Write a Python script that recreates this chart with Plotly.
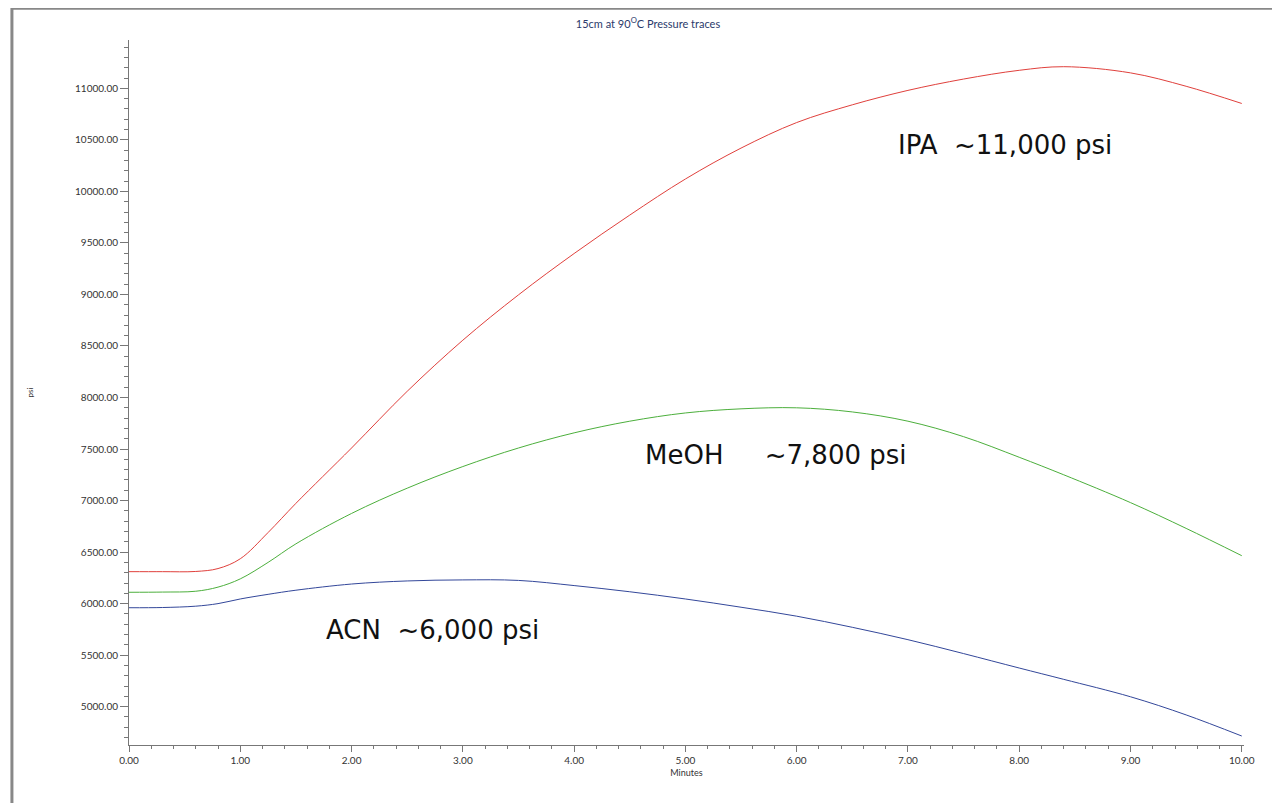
import plotly.graph_objects as go

# Time axis (minutes) and pressure traces (psi)
minutes = [0.0, 0.3, 0.6, 0.8, 1.0, 1.25, 1.5, 2.0, 2.5, 3.0, 3.5, 4.0, 4.5, 5.0, 5.5, 6.0, 6.5, 7.0, 7.5, 8.0, 8.4, 9.0, 9.5, 10.0]
ipa = [6310, 6310, 6312, 6340, 6435, 6690, 6973, 7510, 8060, 8556, 8996, 9397, 9770, 10120, 10420, 10668, 10840, 10980, 11090, 11175, 11210, 11150, 11020, 10853]
meoh = [6110, 6112, 6120, 6160, 6240, 6400, 6580, 6875, 7120, 7330, 7510, 7657, 7770, 7850, 7890, 7900, 7860, 7770, 7620, 7420, 7250, 6980, 6730, 6465]
acn = [5960, 5962, 5975, 6000, 6045, 6090, 6130, 6190, 6220, 6230, 6225, 6175, 6115, 6045, 5965, 5878, 5770, 5650, 5515, 5375, 5265, 5096, 4920, 4715]

x_ticks = [0, 1, 2, 3, 4, 5, 6, 7, 8, 9, 10]
y_ticks = [5000, 5500, 6000, 6500, 7000, 7500, 8000, 8500, 9000, 9500, 10000, 10500, 11000]

fig = go.Figure()
for name, vals, color in [("IPA", ipa, "#e0403c"), ("MeOH", meoh, "#4caf3c"), ("ACN", acn, "#33479a")]:
    fig.add_trace(go.Scatter(x=minutes, y=vals, mode="lines", name=name,
                             line=dict(color=color, width=1, shape="spline", smoothing=1.0)))

labels = [(7.87, 10453, "IPA  ~11,000 psi"), (5.81, 7442, "MeOH     ~7,800 psi"), (2.73, 5741, "ACN  ~6,000 psi")]
for x, y, t in labels:
    fig.add_annotation(x=x, y=y, text=t, showarrow=False,
                       font=dict(family="DejaVu Sans", size=26, color="#111"))

axis_font = dict(family="Lato", size=10, color="#333")
fig.update_xaxes(range=[0, 10.02], tickvals=x_ticks, ticktext=[f"{v:.2f}" for v in x_ticks],
                 showgrid=False, zeroline=False, showline=True, linecolor="#777", ticks="outside",
                 ticklen=6, tickcolor="#777", minor=dict(dtick=0.2, ticks="outside", ticklen=3, tickcolor="#777"),
                 tickfont=axis_font, title=dict(text="Minutes", font=dict(family="Lato", size=9, color="#333"), standoff=4))
fig.update_yaxes(range=[4628, 11469], tickvals=y_ticks, ticktext=[f"{v:.2f}" for v in y_ticks],
                 showgrid=False, zeroline=False, showline=True, linecolor="#777", ticks="outside",
                 ticklen=8, tickcolor="#777", minor=dict(dtick=100, ticks="outside", ticklen=4, tickcolor="#777"),
                 tickfont=axis_font, title=dict(text="psi", font=dict(family="Lato", size=8, color="#333"), standoff=40))

fig.update_layout(
    width=1280, height=803,
    plot_bgcolor="white", paper_bgcolor="white",
    showlegend=False,
    margin=dict(l=121, r=44, t=32, b=66),
    title=dict(text="15cm at 90<sup>O</sup>C Pressure traces", x=0.5, xanchor="center", y=0.985,
               font=dict(family="Lato", size=11, color="#2b3a6b")),
    shapes=[dict(type="rect", xref="paper", yref="paper", x0=-0.105, x1=1.035, y0=-0.085, y1=1.045,
                 line=dict(color="#888", width=3))],
)

fig.write_html("out.html")
